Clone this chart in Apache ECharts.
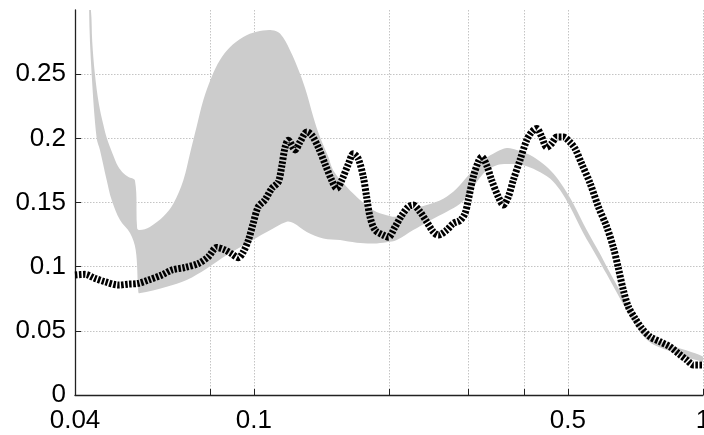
<!DOCTYPE html>
<html>
<head>
<meta charset="utf-8">
<style>
  html, body { margin: 0; padding: 0; background: #ffffff; }
  #chart { width: 704px; height: 435px; }
</style>
<script src="https://cdn.jsdelivr.net/npm/echarts@6/dist/echarts.min.js"></script>
</head>
<body>
<div id="chart"></div>
<script>
// Axis ticks / labels
const xTicks = [0.08, 0.1, 0.2, 0.3, 0.4, 0.5, 1];
const xLabels = [0.04, 0.1, 0.5, 1];
const yTicks = [0, 0.05, 0.1, 0.15, 0.2, 0.25];

// Black dashed curve
const lineX = [0.04,0.0421,0.0443,0.0466,0.0500,0.0526,0.0553,0.0583,0.0624,0.0657,0.0703,0.0753,0.0792,0.0827,0.0863,0.0893,0.0924,0.0948,0.0973,0.0997,0.1023,0.1059,0.1097,0.1134,0.1154,0.1174,0.1194,0.1236,0.1267,0.1312,0.1346,0.1392,0.1441,0.1491,0.1530,0.1570,0.1624,0.1666,0.1709,0.1753,0.1784,0.1814,0.1862,0.1942,0.1993,0.2063,0.2135,0.2208,0.2265,0.2345,0.2426,0.2511,0.2576,0.2689,0.2781,0.2879,0.2953,0.3003,0.3081,0.3161,0.3217,0.3300,0.3385,0.3502,0.3594,0.3686,0.3782,0.3914,0.4051,0.4157,0.4264,0.4376,0.4489,0.4605,0.4725,0.4888,0.5059,0.5191,0.5372,0.5606,0.5849,0.6106,0.6315,0.6479,0.6647,0.6820,0.7058,0.7305,0.7623,0.8024,0.8447,0.8812,0.9200,0.952,1.0];
const lineY = [0.0935,0.094,0.0909,0.0883,0.0857,0.0864,0.087,0.0896,0.0935,0.0974,0.0994,0.1025,0.1077,0.115,0.113,0.110,0.107,0.1116,0.1207,0.1337,0.1466,0.152,0.161,0.166,0.178,0.193,0.1986,0.191,0.197,0.205,0.2025,0.193,0.180,0.1674,0.161,0.1674,0.180,0.188,0.184,0.170,0.154,0.139,0.1285,0.1246,0.123,0.131,0.140,0.1466,0.148,0.1428,0.135,0.127,0.1246,0.1285,0.1337,0.136,0.1415,0.152,0.170,0.1817,0.1856,0.179,0.1674,0.1544,0.148,0.1544,0.1674,0.183,0.1986,0.205,0.2077,0.201,0.193,0.196,0.201,0.201,0.197,0.192,0.180,0.165,0.1466,0.131,0.115,0.099,0.0818,0.0688,0.0597,0.052,0.0454,0.0415,0.0376,0.0324,0.0273,0.0234,0.0234];

// Gray band: upper bound
const upperX = [0.0434,0.0437,0.0443,0.0452,0.0463,0.0471,0.0485,0.0499,0.0512,0.0525,0.0544,0.0550,0.0557,0.0587,0.0629,0.0662,0.0697,0.0721,0.0746,0.0772,0.0806,0.0841,0.0885,0.0948,0.1015,0.1097,0.1144,0.1204,0.1267,0.1312,0.1357,0.1404,0.1465,0.1503,0.1611,0.1724,0.1846,0.1977,0.2081,0.2228,0.2426,0.2642,0.2830,0.3030,0.3244,0.3473,0.3657,0.3849,0.4121,0.4412,0.4644,0.4888,0.5145,0.5510,0.5900,0.6106,0.6768,0.7498,0.8447,1.0];
const upperY = [0.300,0.275,0.250,0.227,0.210,0.200,0.188,0.178,0.173,0.170,0.167,0.130,0.1285,0.131,0.139,0.149,0.1674,0.188,0.209,0.2297,0.248,0.261,0.271,0.279,0.283,0.2843,0.2816,0.2687,0.2505,0.235,0.2167,0.201,0.1856,0.175,0.162,0.152,0.144,0.140,0.139,0.144,0.148,0.153,0.161,0.1726,0.183,0.1895,0.1925,0.191,0.187,0.180,0.1726,0.162,0.149,0.1285,0.110,0.100,0.072,0.048,0.039,0.030];

// Gray band: lower bound
const lowerX = [0.0430,0.04357,0.0447,0.04547,0.04706,0.04828,0.05038,0.05303,0.0546,0.05533,0.0556,0.0640,0.0709,0.0786,0.0871,0.0964,0.1069,0.1184,0.1225,0.1312,0.1428,0.1556,0.1695,0.1846,0.1977,0.2081,0.2265,0.2468,0.2689,0.2879,0.3030,0.3244,0.3473,0.3719,0.3982,0.4264,0.4565,0.4806,0.5059,0.5416,0.5800,0.6106,0.6768,0.7498,0.8447,1.0];
const lowerY = [0.300,0.250,0.200,0.1908,0.1674,0.1519,0.1363,0.1262,0.1129,0.0805,0.0792,0.0843,0.0896,0.0986,0.109,0.118,0.127,0.135,0.134,0.127,0.122,0.1207,0.1186,0.118,0.119,0.1207,0.1285,0.136,0.1428,0.149,0.158,0.1726,0.179,0.180,0.179,0.175,0.1687,0.1597,0.1466,0.126,0.108,0.094,0.066,0.043,0.034,0.026];

const linePts = lineX.map((x, i) => [x, lineY[i]]);
const upperPts = upperX.map((x, i) => [x, upperY[i]]);
const lowerPts = lowerX.map((x, i) => [x, lowerY[i]]);

const FONT = '"Liberation Sans", Arial, Helvetica, sans-serif';
const AXIS_COLOR = '#222';
const fmt = v => String(+(+v).toPrecision(6));

const chart = echarts.init(document.getElementById('chart'), null, { renderer: 'canvas' });
chart.setOption({
  animation: false,
  backgroundColor: '#ffffff',
  grid: { left: 75, right: 1, top: 10, bottom: 40, containLabel: false, outerBoundsMode: 'none' },
  xAxis: {
    type: 'log',
    logBase: 10,
    min: 0.04,
    max: 1,
    axisLine: { show: true, onZero: false, lineStyle: { color: AXIS_COLOR, width: 1.3 } },
    axisTick: { show: true, inside: true, length: 6, customValues: xTicks, lineStyle: { color: AXIS_COLOR, width: 1 } },
    minorTick: { show: false },
    axisLabel: { show: true, customValues: xLabels, formatter: fmt, margin: 13, color: '#000', fontSize: 26, fontFamily: FONT, showMinLabel: true, showMaxLabel: true, hideOverlap: false },
    splitLine: { show: true, lineStyle: { color: '#c4c4c4', width: 1, type: [1.5, 1.5] } },
    minorSplitLine: { show: false }
  },
  yAxis: {
    type: 'value',
    min: 0,
    max: 0.3,
    interval: 0.05,
    axisLine: { show: true, onZero: false, lineStyle: { color: AXIS_COLOR, width: 1.3 } },
    axisTick: { show: true, inside: true, length: 6, customValues: yTicks, lineStyle: { color: AXIS_COLOR, width: 1 } },
    axisLabel: { show: true, customValues: yTicks, formatter: fmt, margin: 9, color: '#000', fontSize: 26, fontFamily: FONT },
    splitLine: { show: true, lineStyle: { color: '#c4c4c4', width: 1, type: [1.5, 1.5] } }
  },
  series: [
    {
      type: 'custom',
      name: 'band',
      clip: true,
      silent: true,
      data: upperPts,
      encode: { x: 0, y: 1 },
      renderItem: function (params, api) {
        if (params.dataIndex !== 0) return null;
        const pts = [];
        for (let i = 0; i < upperPts.length; i++) pts.push(api.coord(upperPts[i]));
        for (let i = lowerPts.length - 1; i >= 0; i--) pts.push(api.coord(lowerPts[i]));
        return {
          type: 'polygon',
          shape: { points: pts, smooth: 0.35 },
          style: { fill: '#cccccc', stroke: null }
        };
      },
      z: 2
    },
    {
      type: 'line',
      name: 'curve',
      data: linePts,
      showSymbol: false,
      symbol: 'none',
      smooth: 0.3,
      clip: true,
      lineStyle: { color: '#000', width: 7, type: [2.5, 1.5], cap: 'butt', join: 'bevel' },
      z: 3
    }
  ]
});
</script>
</body>
</html>
